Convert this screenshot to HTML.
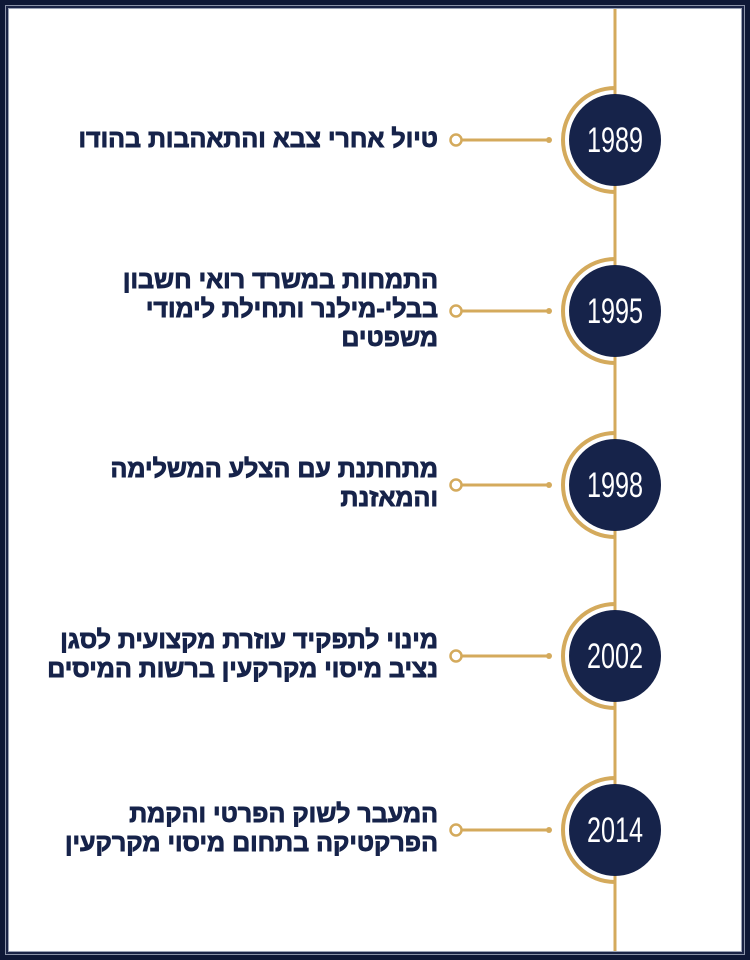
<!DOCTYPE html>
<html><head><meta charset="utf-8"><style>
html,body{margin:0;padding:0;background:#fff}
body{width:750px;height:960px;position:relative;overflow:hidden}
.f{position:absolute;box-sizing:border-box}
.t{position:absolute;right:312px;direction:rtl;text-align:right;font-family:"Liberation Sans","DejaVu Sans",sans-serif;font-weight:bold;font-size:25px;line-height:29px;color:#16234a;white-space:nowrap;-webkit-text-stroke:0.9px #16234a}
</style></head><body>
<div class="f" style="left:0;top:0;width:750px;height:960px;border:5px solid #0e1836"></div>
<div class="f" style="left:5px;top:5px;width:740px;height:950px;border:1px solid #8a93a8"></div>
<div class="f" style="left:6px;top:6px;width:738px;height:948px;border:2px solid #1a2446"></div>
<div class="f" style="left:8px;top:8px;width:734px;height:944px;border:1px solid #9aa2b5"></div>
<svg class="f" style="left:0;top:0" width="750" height="960">
<line x1="615" y1="9" x2="615" y2="951" stroke="#d4aa5c" stroke-width="3"/>
<g font-family="Liberation Sans Narrow, Liberation Sans, sans-serif" font-size="35" fill="#fff" text-anchor="middle">
<g transform="translate(0,140)">
<path d="M615,-52 A52,52 0 0 0 615,52" fill="none" stroke="#d4aa5c" stroke-width="4"/>
<circle cx="615" cy="0" r="46" fill="#16234a"/>
<line x1="462" y1="0" x2="549" y2="0" stroke="#d4aa5c" stroke-width="3"/><circle cx="549" cy="0" r="3" fill="#d4aa5c"/>
<circle cx="456" cy="0" r="5.5" fill="#fff" stroke="#d4aa5c" stroke-width="2.5"/>
<text x="615" y="12" transform="translate(615,0) scale(0.72,1) translate(-615,0)">1989</text></g>
<g transform="translate(0,311)">
<path d="M615,-52 A52,52 0 0 0 615,52" fill="none" stroke="#d4aa5c" stroke-width="4"/>
<circle cx="615" cy="0" r="46" fill="#16234a"/>
<line x1="462" y1="0" x2="549" y2="0" stroke="#d4aa5c" stroke-width="3"/><circle cx="549" cy="0" r="3" fill="#d4aa5c"/>
<circle cx="456" cy="0" r="5.5" fill="#fff" stroke="#d4aa5c" stroke-width="2.5"/>
<text x="615" y="12" transform="translate(615,0) scale(0.72,1) translate(-615,0)">1995</text></g>
<g transform="translate(0,485)">
<path d="M615,-52 A52,52 0 0 0 615,52" fill="none" stroke="#d4aa5c" stroke-width="4"/>
<circle cx="615" cy="0" r="46" fill="#16234a"/>
<line x1="462" y1="0" x2="549" y2="0" stroke="#d4aa5c" stroke-width="3"/><circle cx="549" cy="0" r="3" fill="#d4aa5c"/>
<circle cx="456" cy="0" r="5.5" fill="#fff" stroke="#d4aa5c" stroke-width="2.5"/>
<text x="615" y="12" transform="translate(615,0) scale(0.72,1) translate(-615,0)">1998</text></g>
<g transform="translate(0,656)">
<path d="M615,-52 A52,52 0 0 0 615,52" fill="none" stroke="#d4aa5c" stroke-width="4"/>
<circle cx="615" cy="0" r="46" fill="#16234a"/>
<line x1="462" y1="0" x2="549" y2="0" stroke="#d4aa5c" stroke-width="3"/><circle cx="549" cy="0" r="3" fill="#d4aa5c"/>
<circle cx="456" cy="0" r="5.5" fill="#fff" stroke="#d4aa5c" stroke-width="2.5"/>
<text x="615" y="12" transform="translate(615,0) scale(0.72,1) translate(-615,0)">2002</text></g>
<g transform="translate(0,830)">
<path d="M615,-52 A52,52 0 0 0 615,52" fill="none" stroke="#d4aa5c" stroke-width="4"/>
<circle cx="615" cy="0" r="46" fill="#16234a"/>
<line x1="462" y1="0" x2="549" y2="0" stroke="#d4aa5c" stroke-width="3"/><circle cx="549" cy="0" r="3" fill="#d4aa5c"/>
<circle cx="456" cy="0" r="5.5" fill="#fff" stroke="#d4aa5c" stroke-width="2.5"/>
<text x="615" y="12" transform="translate(615,0) scale(0.72,1) translate(-615,0)">2014</text></g>
</g></svg>
<div class="t" style="top:125px">טיול אחרי צבא והתאהבות בהודו</div>
<div class="t" style="top:266px">התמחות במשרד רואי חשבון<br>בבלי-מילנר ותחילת לימודי<br>משפטים</div>
<div class="t" style="top:455px">מתחתנת עם הצלע המשלימה<br>והמאזנת</div>
<div class="t" style="top:626px">מינוי לתפקיד עוזרת מקצועית לסגן<br>נציב מיסוי מקרקעין ברשות המיסים</div>
<div class="t" style="top:800px">המעבר לשוק הפרטי והקמת<br>הפרקטיקה בתחום מיסוי מקרקעין</div>
</body></html>
